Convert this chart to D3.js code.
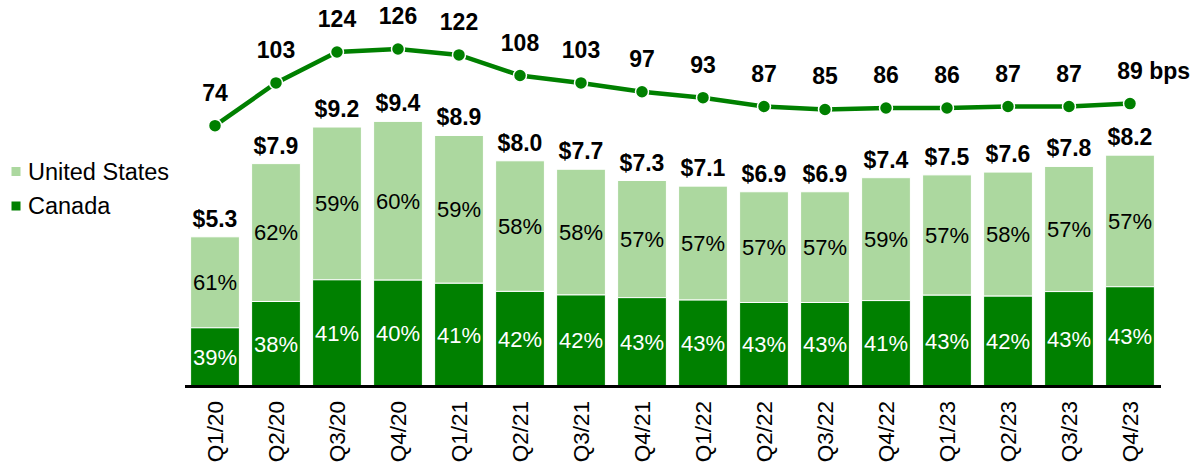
<!DOCTYPE html>
<html>
<head>
<meta charset="utf-8">
<script src="https://cdn.jsdelivr.net/npm/d3@7"></script>
<style>
  body { margin: 0; background: #fff; }
  text { font-family: "Liberation Sans", Arial, sans-serif; }
</style>
</head>
<body>
<svg id="chart" width="1193" height="468"></svg>
<script>
// data
const quarters = ["Q1/20","Q2/20","Q3/20","Q4/20","Q1/21","Q2/21","Q3/21","Q4/21",
                  "Q1/22","Q2/22","Q3/22","Q4/22","Q1/23","Q2/23","Q3/23","Q4/23"];
const totals = [5.3, 7.9, 9.2, 9.4, 8.9, 8.0, 7.7, 7.3, 7.1, 6.9, 6.9, 7.4, 7.5, 7.6, 7.8, 8.2];
const usShare = [61, 62, 59, 60, 59, 58, 58, 57, 57, 57, 57, 59, 57, 58, 57, 57];
const canadaShare = [39, 38, 41, 40, 41, 42, 42, 43, 43, 43, 43, 41, 43, 42, 43, 43];
const bps = [74, 103, 124, 126, 122, 108, 103, 97, 93, 87, 85, 86, 86, 87, 87, 89];

const darkGreen = "#008000";
const lightGreen = "#acd89f";

const svg = d3.select("#chart");
const baseY = 386;

const data = quarters.map((q, i) => ({
    q: q, total: totals[i], us: usShare[i], ca: canadaShare[i], bps: bps[i]
}));

// scales
const x = d3.scaleBand().domain(quarters).range([184.5, 1160.5])
            .paddingInner(0.2).paddingOuter(0.1);
const y = d3.scaleLinear().domain([0, 10]).range([baseY, 104.5]);
const yLine = d3.scaleLinear().domain([0, 130]).range([234.8, 43.1]);

// stacked bars: canada at bottom, us on top
const caH = d => d.total * d.ca / (d.ca + d.us);
const bars = svg.append("g");
bars.selectAll("rect.us")
    .data(data)
    .join("rect")
    .attr("class", "us")
    .attr("x", d => x(d.q))
    .attr("width", x.bandwidth())
    .attr("y", d => y(d.total))
    .attr("height", d => y(caH(d)) - y(d.total))
    .attr("fill", lightGreen)
    .attr("stroke", "#fff").attr("stroke-width", 1);
bars.selectAll("rect.ca")
    .data(data)
    .join("rect")
    .attr("class", "ca")
    .attr("x", d => x(d.q))
    .attr("width", x.bandwidth())
    .attr("y", d => y(caH(d)))
    .attr("height", d => y(0) - y(caH(d)))
    .attr("fill", darkGreen)
    .attr("stroke", "#fff").attr("stroke-width", 1);

// percent labels
const cx = d => x(d.q) + x.bandwidth() / 2;
bars.selectAll("text.usl")
    .data(data)
    .join("text")
    .attr("x", cx)
    .attr("y", d => (y(d.total) + y(caH(d))) / 2)
    .attr("dy", "0.36em")
    .attr("text-anchor", "middle")
    .attr("font-size", 22)
    .attr("fill", "#000")
    .text(d => d.us + "%");
bars.selectAll("text.cal")
    .data(data)
    .join("text")
    .attr("x", cx)
    .attr("y", d => (y(caH(d)) + y(0)) / 2)
    .attr("dy", "0.36em")
    .attr("text-anchor", "middle")
    .attr("font-size", 22)
    .attr("fill", "#fff")
    .text(d => d.ca + "%");

// totals
bars.selectAll("text.tot")
    .data(data)
    .join("text")
    .attr("x", cx)
    .attr("y", d => y(d.total) - 10)
    .attr("text-anchor", "middle")
    .attr("font-size", 23)
    .attr("font-weight", "bold")
    .text(d => "$" + d.total.toFixed(1));

// x axis
const axis = svg.append("g")
    .attr("transform", `translate(0,${baseY})`)
    .call(d3.axisBottom(x).tickSize(0).tickSizeOuter(0));
axis.select(".domain").attr("stroke", "#000").attr("stroke-width", 3);
axis.selectAll("text")
    .attr("font-family", "Liberation Sans, Arial, sans-serif")
    .attr("font-size", 22.5)
    .attr("fill", "#000")
    .attr("text-anchor", "end")
    .attr("transform", "rotate(-90)")
    .attr("x", -15)
    .attr("y", 0)
    .attr("dy", "0.36em");

// line of bps
const line = d3.line().x(cx).y(d => yLine(d.bps));
const lg = svg.append("g");
lg.append("path")
    .datum(data)
    .attr("d", line)
    .attr("fill", "none")
    .attr("stroke", darkGreen)
    .attr("stroke-width", 4.5);
lg.selectAll("circle")
    .data(data)
    .join("circle")
    .attr("cx", cx)
    .attr("cy", d => yLine(d.bps))
    .attr("r", 6.5)
    .attr("fill", darkGreen)
    .attr("stroke", "#fff")
    .attr("stroke-width", 1.5);
lg.selectAll("text")
    .data(data)
    .join("text")
    .attr("x", cx)
    .attr("y", d => yLine(d.bps) - 25)
    .attr("text-anchor", "middle")
    .attr("font-size", 23)
    .attr("font-weight", "bold")
    .text(d => d.bps);

// "bps" after the last value
const lastLabel = lg.selectAll("text").filter((d, i) => i === data.length - 1);
const lastW = lastLabel.node().getComputedTextLength();
const last = data[data.length - 1];
lg.append("text")
    .attr("x", cx(last) + lastW / 2)
    .attr("y", yLine(last.bps) - 25)
    .attr("font-size", 23)
    .attr("font-weight", "bold")
    .text("\u00a0bps");

// legend
const legend = [["United States", lightGreen, 171.5], ["Canada", darkGreen, 206]];
const leg = svg.append("g");
legend.forEach(l => {
    leg.append("rect")
        .attr("x", 11.5).attr("y", l[2] - 4.5)
        .attr("width", 9).attr("height", 9)
        .attr("fill", l[1]);
    leg.append("text")
        .attr("x", 28).attr("y", l[2])
        .attr("dy", "0.36em")
        .attr("font-size", 23.5)
        .text(l[0]);
});
</script>
</body>
</html>
